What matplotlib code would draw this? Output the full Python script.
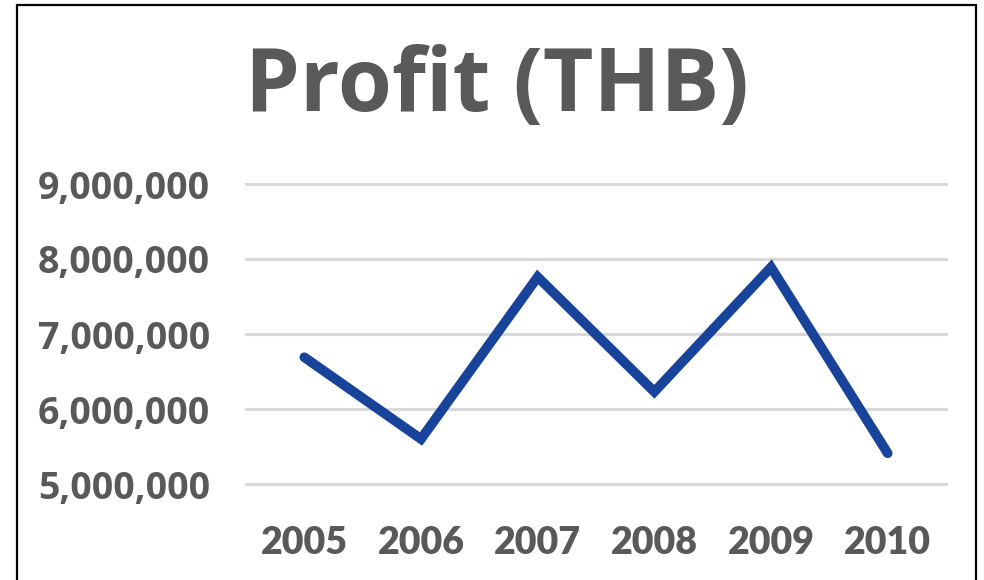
import matplotlib
matplotlib.use("Agg")
import matplotlib.pyplot as plt
from matplotlib.patches import Rectangle
from matplotlib.ticker import FuncFormatter

years = ["2005", "2006", "2007", "2008", "2009", "2010"]
profit = [6690000, 5600000, 7760000, 6230000, 7890000, 5410000]
yticks = [5000000, 6000000, 7000000, 8000000, 9000000]

W, H = 984, 580
fig = plt.figure(figsize=(W / 100, H / 100), dpi=100)
fig.patch.set_facecolor("white")

ax = fig.add_axes([246 / W, 1 - 484 / H, 700 / W, 300 / H])
x = list(range(len(years)))
ax.plot(x, profit, color="#17449A", lw=7, solid_capstyle="round",
        solid_joinstyle="miter", zorder=3)
ax.set_xlim(-0.5, len(years) - 0.5)
ax.set_ylim(5000000, 9000000)
ax.set_yticks(yticks)
ax.yaxis.set_major_formatter(FuncFormatter(lambda v, p: f"{int(v):,}"))
ax.set_xticks(x)
ax.set_xticklabels(years)
for s in ax.spines.values():
    s.set_visible(False)
ax.tick_params(length=0)
ax.grid(axis="y", color="#D9D9D9", lw=2.2)
ax.set_axisbelow(True)
for gl in ax.get_ygridlines():
    gl.set_clip_on(False)

for lab in ax.get_yticklabels():
    lab.set_fontfamily("Open Sans")
    lab.set_fontweight("bold")
    lab.set_fontsize(27)
    lab.set_color("#595959")
ax.tick_params(axis="y", pad=26)
for lab in ax.get_xticklabels():
    lab.set_fontfamily("Lato")
    lab.set_fontweight("heavy")
    lab.set_fontsize(27)
    lab.set_color("#595959")
ax.tick_params(axis="x", pad=30)

fig.text(497 / W, 1 - 88 / H, "Profit (THB)", ha="center", va="center",
         fontfamily="Open Sans", fontweight="bold", fontsize=63, color="#595959")

fig.patches.append(Rectangle((17 / W, -0.05), (976 - 17) / W, 1.05 - 5 / H,
                             transform=fig.transFigure, fill=False,
                             edgecolor="black", lw=1.6))

fig.savefig("out.png", dpi=100)
